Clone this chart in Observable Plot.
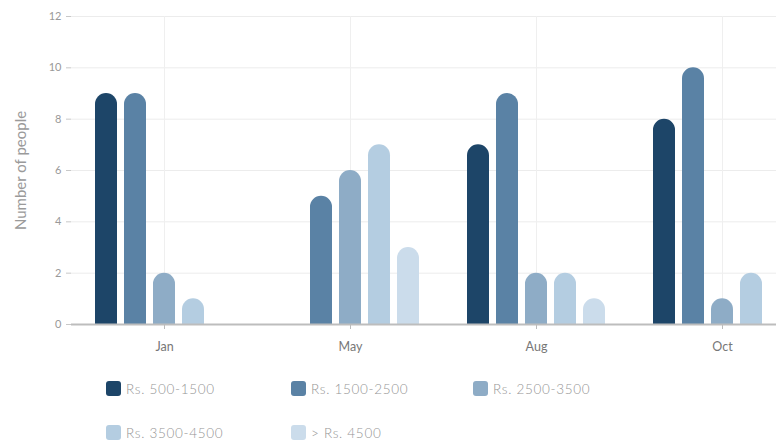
<!DOCTYPE html>
<html>
<head>
<meta charset="utf-8">
<script src="https://cdn.jsdelivr.net/npm/d3@7"></script>
<script src="https://cdn.jsdelivr.net/npm/@observablehq/plot@0.6"></script>
<style>
  body { margin: 0; background: #fff; }
  #wrap { width: 776px; height: 445px; overflow: hidden; position: relative; background: #fff; font-family: Lato, "Open Sans", sans-serif; }
  #chart svg { max-width: none; display: block; }
  #legend { position: absolute; left: 106px; top: 381px; display: grid; grid-template-columns: 185px 182px 185px; row-gap: 29px; }
  .item { display: flex; align-items: center; height: 15px; font-size: 13.5px; color: #959595; letter-spacing: 0.7px; font-weight: 300; }
  .sw { width: 15px; height: 15px; border-radius: 3px; margin-right: 5px; flex: none; }
</style>
</head>
<body>
<div id="wrap"><div id="chart"></div><div id="legend"></div></div>
<script>
const months = ["Jan", "May", "Aug", "Oct"];
const series = ["Rs. 500-1500", "Rs. 1500-2500", "Rs. 2500-3500", "Rs. 3500-4500", "> Rs. 4500"];
const colors = ["#1d4568", "#5a82a5", "#8eacc6", "#b4cde1", "#cbdceb"];
const s1 = [9, 0, 7, 8];
const s2 = [9, 5, 9, 10];
const s3 = [2, 6, 2, 1];
const s4 = [1, 7, 2, 2];
const s5 = [0, 3, 1, 0];
const yTicks = [0, 2, 4, 6, 8, 10, 12];

const values = [s1, s2, s3, s4, s5];
const data = [];
months.forEach((m, i) => series.forEach((s, j) => data.push({month: m, series: s, value: values[j][i]})));

const chart = Plot.plot({
  width: 816,
  height: 360,
  marginLeft: 70,
  marginRight: 0,
  marginTop: 16,
  marginBottom: 36,
  style: {fontFamily: "Lato, 'Open Sans', sans-serif", fontSize: "11px", color: "#999", background: "#fff"},
  fx: {domain: months, padding: 0, axis: null},
  x: {domain: series, paddingInner: 0.23, paddingOuter: 0.72, axis: null},
  y: {domain: [0, 12], axis: null},
  color: {domain: series, range: colors},
  marks: [
    Plot.gridY(yTicks, {stroke: "#ececec", strokeOpacity: 1}),
    Plot.gridFx({stroke: "#efefef", strokeOpacity: 1}),
    Plot.axisY({ticks: yTicks, tickSize: 5, tickPadding: 5, line: true, stroke: "#c8c8c8", fill: "#999", label: null}),
    Plot.axisY({ticks: [], tickSize: 0, fill: "#9a9a9a", fontSize: 15,
      label: "Number of people", labelAnchor: "center", labelOffset: 56, labelArrow: "none"}),
    Plot.barY(data, {fx: "month", x: "series", y: "value", fill: "series", ry1: 11.5}),
    Plot.ruleY([0], {stroke: "#bdbdbd", strokeWidth: 2}),
    Plot.axisFx({anchor: "bottom", tickSize: 5, tickPadding: 13, stroke: "#bbb", fill: "#777", fontSize: 12.5, label: null})
  ]
});
document.getElementById("chart").appendChild(chart);

const legend = document.getElementById("legend");
series.forEach((s, i) => {
  const it = document.createElement("div");
  it.className = "item";
  const sw = document.createElement("span");
  sw.className = "sw";
  sw.style.background = colors[i];
  it.appendChild(sw);
  it.appendChild(document.createTextNode(s));
  legend.appendChild(it);
});
</script>
</body>
</html>
